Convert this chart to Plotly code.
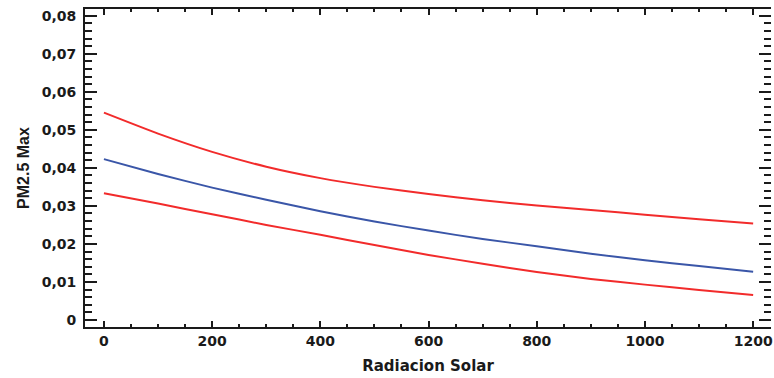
import plotly.graph_objects as go

# Radiacion Solar (x) and fitted PM2.5 Max with its upper/lower limits
radiacion = [0, 100, 200, 300, 400, 500, 600, 700, 800, 900, 1000, 1100, 1200]
pm25_fit = [0.0423, 0.0384, 0.0348, 0.0316, 0.0286, 0.0259, 0.0235, 0.0213,
            0.0194, 0.0174, 0.0157, 0.0142, 0.0127]
pm25_upper = [0.0545, 0.0490, 0.0442, 0.0403, 0.0373, 0.0350, 0.0331, 0.0315,
              0.0301, 0.0289, 0.0277, 0.0265, 0.0254]
pm25_lower = [0.0333, 0.0306, 0.0278, 0.0250, 0.0224, 0.0197, 0.0171, 0.0148,
              0.0126, 0.0108, 0.0093, 0.0079, 0.0066]

RED = "#f22b2b"
BLUE = "#3a56a8"
INK = "#1a1a1a"

fig = go.Figure()
for ys, col in [(pm25_upper, RED), (pm25_fit, BLUE), (pm25_lower, RED)]:
    fig.add_trace(go.Scatter(
        x=radiacion, y=ys, mode="lines",
        line=dict(color=col, width=2, shape="spline", smoothing=0.6),
        showlegend=False, hoverinfo="skip",
    ))

# invisible trace so the right-hand tick axis is drawn
fig.add_trace(go.Scatter(x=[radiacion[0]], y=[pm25_fit[0]], yaxis="y2",
                         mode="markers", marker=dict(opacity=0),
                         showlegend=False, hoverinfo="skip"))

tick_font = dict(family="DejaVu Sans", size=14, color=INK, weight="bold")
y_range = [-0.00184, 0.08176]

fig.update_layout(
    width=774, height=378,
    margin=dict(l=85, r=1, t=9, b=51),
    paper_bgcolor="white", plot_bgcolor="white",
    separators=",.",
    xaxis=dict(
        range=[-35, 1233], tickmode="linear", tick0=0, dtick=200,
        ticks="inside", ticklen=6, tickwidth=1.5, tickcolor=INK,
        minor=dict(ticks="inside", ticklen=3, tickwidth=1.5, dtick=50,
                   tickcolor=INK),
        showline=True, linecolor=INK, linewidth=2, mirror="ticks",
        showgrid=False, zeroline=False,
        tickfont=tick_font, ticklabeloverflow="allow",
        title=dict(text="Radiacion Solar", standoff=13,
                   font=dict(family="DejaVu Sans", size=15, color=INK,
                             weight="bold")),
    ),
    yaxis=dict(
        range=y_range, tickmode="linear", tick0=0, dtick=0.01,
        ticks="inside", ticklen=12, tickwidth=2, tickcolor=INK,
        minor=dict(ticks="inside", ticklen=7, tickwidth=2, dtick=0.002,
                   tickcolor=INK),
        showline=True, linecolor=INK, linewidth=2, mirror=False,
        showgrid=False, zeroline=False,
        tickfont=tick_font, ticklabelstandoff=4,
        title=dict(text="PM2.5 Max", standoff=8,
                   font=dict(family="Liberation Sans", size=16, color=INK,
                             weight="bold")),
    ),
    yaxis2=dict(
        overlaying="y", side="right", range=y_range,
        tickmode="linear", tick0=0, dtick=0.01,
        ticks="inside", ticklen=12, tickwidth=2, tickcolor=INK,
        minor=dict(ticks="inside", ticklen=7, tickwidth=2, dtick=0.002,
                   tickcolor=INK),
        showline=False, showticklabels=False,
        showgrid=False, zeroline=False,
    ),
)

fig.write_html("out.html")
